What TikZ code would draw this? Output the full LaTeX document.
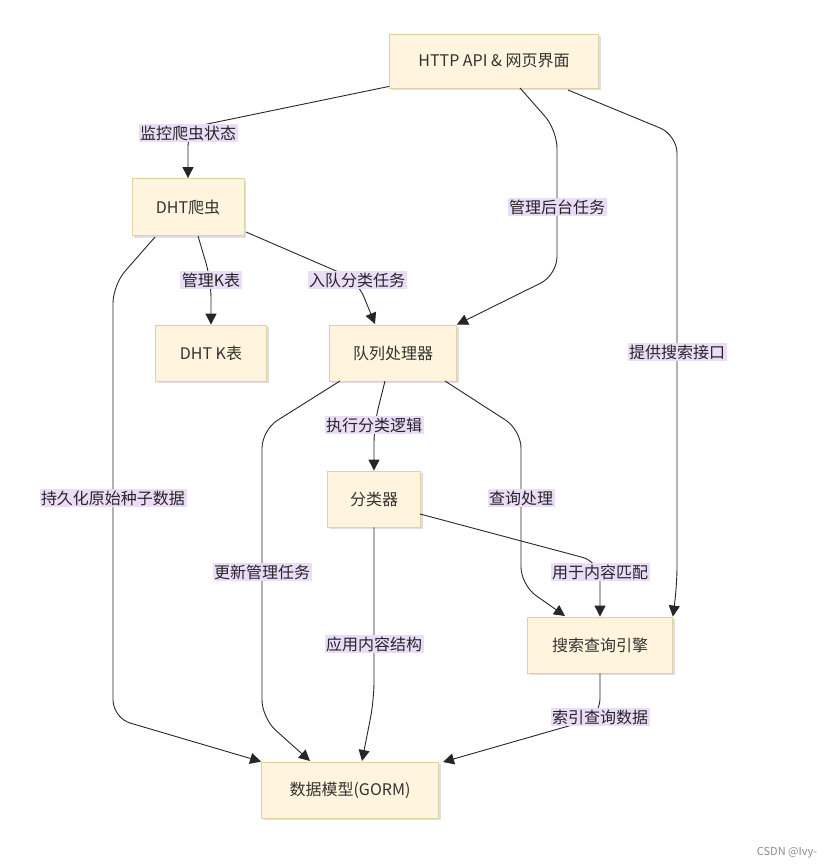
\documentclass[tikz,border=0pt]{standalone}
\usepackage{fontspec}
\setmainfont{Noto Sans CJK SC}
\usetikzlibrary{arrows.meta,shadows}
\definecolor{nfill}{HTML}{FFF4DD}
\definecolor{nline}{HTML}{E3CFA8}
\definecolor{lbl}{HTML}{EBDCF7}
\begin{document}
\begin{tikzpicture}[x=1pt,y=-1pt,
  box/.style={draw=nline,fill=nfill,line width=0.8pt,drop shadow={shadow xshift=2pt,shadow yshift=-2pt,opacity=0.25},font=\fontsize{16}{19}\selectfont,text=black!80,inner sep=0pt},
  lab/.style={fill=lbl,font=\fontsize{16}{19}\selectfont,text=black!85,inner sep=1.5pt},
  edge/.style={draw=black!85,line width=0.9pt,rounded corners=18pt,-{Triangle[length=11pt,width=11pt]}}]
\useasboundingbox (0,0) rectangle (837,868);
\node[box,minimum width=209,minimum height=54] (http) at (494,61) {HTTP API \& 网页界面};
\node[box,minimum width=112,minimum height=57] (dht) at (188,207) {DHT爬虫};
\node[box,minimum width=111,minimum height=56] (kt) at (211,353) {DHT K表};
\node[box,minimum width=127,minimum height=56] (q) at (393,353) {队列处理器};
\node[box,minimum width=93,minimum height=56] (cl) at (374,499) {分类器};
\node[box,minimum width=145,minimum height=56] (se) at (600,645) {搜索查询引擎};
\node[box,minimum width=177,minimum height=56] (db) at (350,790) {数据模型(GORM)};
\coordinate (a1) at (188,128);
\path[edge] (http.south west) ++(0,-2) -- (a1) -- (dht.north);
\path[edge] (520,88) -- (557,130) -- (557,275) -- (q.north east);
\path[edge] (568,90) -- (677,135) -- (677,585) -- (se.north east);
\path[edge] (155,237) -- (113,285) -- (113,718) -- (db.north west);
\path[edge] (198,236) -- (211,280) -- (kt.north);
\path[edge] (246,232) -- (357,280) -- (375,324);
\path[edge] (340,381) -- (262,430) -- (262,718) -- (310,761);
\path[edge] (385,381) -- (374,425) -- (cl.north);
\path[edge] (445,381) -- (521,430) -- (521,585) -- (565,616);
\path[edge] (420,514) -- (600,562) -- (se.north);
\path[edge] (cl.south) -- (374,700) -- (362,761);
\path[edge] (se.south) -- (600,717) -- (443,762);
\node[lab] at (188,133) {监控爬虫状态};
\node[lab] at (557,207) {管理后台任务};
\node[lab] at (677,352) {提供搜索接口};
\node[lab] at (113,498) {持久化原始种子数据};
\node[lab] at (211,280) {管理K表};
\node[lab] at (357,280) {入队分类任务};
\node[lab] at (262,572) {更新管理任务};
\node[lab] at (374,425) {执行分类逻辑};
\node[lab] at (521,498) {查询处理};
\node[lab] at (600,572) {用于内容匹配};
\node[lab] at (374,644) {应用内容结构};
\node[lab] at (600,717) {索引查询数据};
\node[font=\fontsize{11}{13}\selectfont,text=black!45] at (787,853) {CSDN @Ivy-};
\end{tikzpicture}
\end{document}
